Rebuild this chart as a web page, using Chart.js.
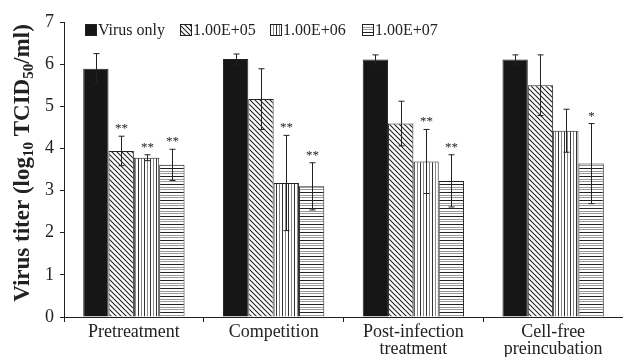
<!DOCTYPE html>
<html>
<head>
<meta charset="utf-8">
<script src="https://cdn.jsdelivr.net/npm/chart.js@4/dist/chart.umd.min.js"></script>
<style>
  html, body { margin: 0; padding: 0; background: #fff; }
  #wrap { width: 623px; height: 357px; position: relative; }
</style>
</head>
<body>
<div id="wrap"><canvas id="chart"></canvas></div>
<script>
var categories = [['Pretreatment'], ['Competition'], ['Post-infection', 'treatment'], ['Cell-free', 'preincubation']];
var seriesNames = ['Virus only', '1.00E+05', '1.00E+06', '1.00E+07'];

var virusOnly = [5.89, 6.12, 6.11, 6.11];
var dose5 = [3.94, 5.17, 4.59, 5.50];
var dose6 = [3.78, 3.18, 3.69, 4.42];
var dose7 = [3.61, 3.10, 3.23, 3.64];

var errVirus = [0.36, 0.12, 0.11, 0.11];
var err5 = [0.35, 0.72, 0.53, 0.72];
var err6 = [0.07, 1.13, 0.76, 0.51];
var err7 = [0.37, 0.56, 0.62, 0.95];

var stars5 = ['**', '', '', ''];
var stars6 = ['**', '**', '**', ''];
var stars7 = ['**', '**', '**', '*'];

var yTicks = [0, 1, 2, 3, 4, 5, 6, 7];

var SERIF = '"Liberation Serif", "Times New Roman", serif';

function makePattern(kind) {
  var c = document.createElement('canvas');
  var ctx = c.getContext('2d');
  if (kind === 'diag') {
    c.width = 5; c.height = 5;
    ctx.fillStyle = '#fff'; ctx.fillRect(0, 0, 5, 5);
    ctx.strokeStyle = '#222'; ctx.lineWidth = 1.1;
    ctx.beginPath();
    ctx.moveTo(-5, -5); ctx.lineTo(10, 10);
    ctx.moveTo(0, -5); ctx.lineTo(10, 5);
    ctx.moveTo(-5, 0); ctx.lineTo(5, 10);
    ctx.stroke();
  } else if (kind === 'vert') {
    c.width = 6; c.height = 6;
    ctx.fillStyle = '#fff'; ctx.fillRect(0, 0, 6, 6);
    ctx.fillStyle = '#333'; ctx.fillRect(0, 0, 1, 6);
    ctx.fillStyle = '#888'; ctx.fillRect(3, 0, 1, 6);
  } else {
    c.width = 6; c.height = 8;
    ctx.fillStyle = '#fff'; ctx.fillRect(0, 0, 6, 8);
    ctx.fillStyle = '#222'; ctx.fillRect(0, 0, 6, 1);
    ctx.fillStyle = '#999'; ctx.fillRect(0, 3, 6, 1);
    ctx.fillStyle = '#999'; ctx.fillRect(0, 5, 6, 1);
  }
  return ctx.createPattern(c, 'repeat');
}

var fills = ['#161616', makePattern('diag'), makePattern('vert'), makePattern('horiz')];
var values = [virusOnly, dose5, dose6, dose7];
var errors = [errVirus, err5, err6, err7];
var stars = [null, stars5, stars6, stars7];

var datasets = values.map(function (v, i) {
  return {
    label: seriesNames[i],
    data: v,
    backgroundColor: fills[i],
    borderColor: '#222',
    borderWidth: 1,
    barPercentage: 1,
    categoryPercentage: 0.725
  };
});

// error bars + significance stars
var errorBarPlugin = {
  id: 'errorBars',
  afterDatasetsDraw: function (chart) {
    var ctx = chart.ctx;
    var y = chart.scales.y;
    ctx.save();
    chart.data.datasets.forEach(function (ds, i) {
      var meta = chart.getDatasetMeta(i);
      meta.data.forEach(function (bar, j) {
        var v = ds.data[j], e = errors[i][j];
        var top = y.getPixelForValue(v + e);
        var bot = y.getPixelForValue(v - e);
        var x = Math.round(bar.x) + 0.5;
        ctx.strokeStyle = '#222';
        ctx.lineWidth = 1;
        ctx.beginPath();
        ctx.moveTo(x, top); ctx.lineTo(x, bot);
        ctx.moveTo(x - 3, top); ctx.lineTo(x + 3, top);
        ctx.moveTo(x - 3, bot); ctx.lineTo(x + 3, bot);
        ctx.stroke();
        if (stars[i] && stars[i][j]) {
          ctx.fillStyle = '#222';
          ctx.font = '13px ' + SERIF;
          ctx.textAlign = 'center';
          ctx.textBaseline = 'alphabetic';
          ctx.fillText(stars[i][j], x, top - 4);
        }
      });
    });
    ctx.restore();
  }
};

// legend drawn across the top of the plot
var legendPlugin = {
  id: 'topLegend',
  afterDraw: function (chart) {
    var ctx = chart.ctx;
    var xs = [85, 180, 270, 362];
    ctx.save();
    ctx.font = '16px ' + SERIF;
    ctx.textBaseline = 'middle';
    ctx.textAlign = 'left';
    chart.data.datasets.forEach(function (ds, i) {
      var bx = xs[i];
      ctx.fillStyle = ds.backgroundColor;
      ctx.fillRect(bx, 24, 12, 12);
      ctx.strokeStyle = '#222';
      ctx.lineWidth = 1;
      ctx.strokeRect(bx + 0.5, 24.5, 11, 11);
      ctx.fillStyle = '#222';
      ctx.fillText(ds.label, bx + 13, 30.5);
    });
    ctx.restore();
  }
};

// y-axis title with subscripts
var yTitlePlugin = {
  id: 'yTitle',
  afterDraw: function (chart) {
    var ctx = chart.ctx;
    var parts = [
      ['Virus titer (log', 0], ['10', 1], [' TCID', 0], ['50', 1], ['/ml)', 0]
    ];
    var big = 'bold 23px ' + SERIF, small = 'bold 15px ' + SERIF;
    ctx.save();
    var total = 0;
    parts.forEach(function (p) {
      ctx.font = p[1] ? small : big;
      total += ctx.measureText(p[0]).width;
    });
    ctx.translate(29, 163);
    ctx.rotate(-Math.PI / 2);
    ctx.fillStyle = '#222';
    ctx.textBaseline = 'alphabetic';
    ctx.textAlign = 'left';
    var x = -total / 2;
    parts.forEach(function (p) {
      ctx.font = p[1] ? small : big;
      ctx.fillText(p[0], x, p[1] ? 4 : 0);
      x += ctx.measureText(p[0]).width;
    });
    ctx.restore();
  }
};

new Chart(document.getElementById('chart'), {
  type: 'bar',
  data: { labels: categories, datasets: datasets },
  plugins: [errorBarPlugin, legendPlugin, yTitlePlugin],
  options: {
    responsive: true,
    maintainAspectRatio: false,
    animation: false,
    layout: { padding: { top: 22, right: 0, left: 0, bottom: 0 } },
    plugins: { legend: { display: false }, tooltip: { enabled: false } },
    scales: {
      x: {
        grid: { display: true, drawOnChartArea: false, drawTicks: true, tickLength: 5, color: '#222', offset: true },
        border: { display: true, color: '#222', width: 1 },
        ticks: { color: '#222', font: { family: SERIF, size: 18, lineHeight: 0.95 }, padding: 2, maxRotation: 0 },
        afterFit: function (s) { s.height = 40; }
      },
      y: {
        min: 0, max: 7,
        afterBuildTicks: function (s) { s.ticks = yTicks.map(function (v) { return { value: v }; }); },
        grid: { display: true, drawOnChartArea: false, drawTicks: true, tickLength: 4, color: '#222' },
        border: { display: true, color: '#222', width: 1 },
        ticks: { color: '#222', font: { family: SERIF, size: 18 }, padding: 6 },
        afterFit: function (s) { s.width = 64; }
      }
    }
  }
});
</script>
</body>
</html>
